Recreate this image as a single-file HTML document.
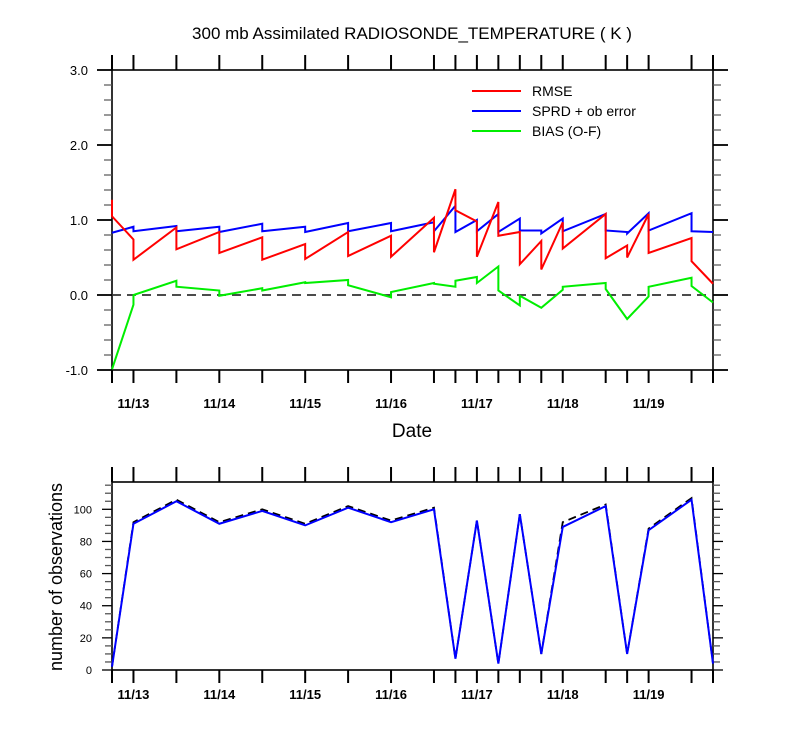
<!DOCTYPE html>
<html><head><meta charset="utf-8"><style>
body{margin:0;background:#fff;}
svg{display:block;font-family:"Liberation Sans",sans-serif;}
</style></head><body>
<svg id="chart" width="800" height="750" viewBox="0 0 800 750">
<text x="412" y="39" text-anchor="middle" font-size="17">300 mb Assimilated RADIOSONDE_TEMPERATURE ( K )</text>
<text x="412" y="437" text-anchor="middle" font-size="19">Date</text>
<text transform="translate(62,577) rotate(-90)" text-anchor="middle" font-size="18">number of observations</text>
<g id="gtop"></g>
<g id="gbot"></g>
<g id="glegend"></g>
</svg>
<script>
const times = [-6,0,12,24,36,48,60,72,84,90,96,102,108,114,120,132,138,144,156,162];
const dateLabels = ["11/13","11/14","11/15","11/16","11/17","11/18","11/19"];
const dateHours = [0,24,48,72,96,120,144];
const rmseBefore = [1.27,0.74,0.90,0.84,0.77,0.68,0.84,0.79,1.03,1.41,0.98,1.24,0.84,0.72,0.97,1.08,0.66,1.08,0.76,0.15];
const rmseAfter  = [1.05,0.47,0.61,0.56,0.47,0.48,0.52,0.51,0.57,1.13,0.51,0.79,0.41,0.34,0.62,0.49,0.50,0.56,0.45,0.15];
const sprdBefore = [0.83,0.91,0.92,0.91,0.95,0.91,0.96,0.96,0.97,1.19,1.00,1.08,1.02,0.86,1.02,1.08,0.84,1.09,1.09,0.84];
const sprdAfter  = [0.83,0.85,0.85,0.84,0.85,0.84,0.85,0.85,0.85,0.84,0.85,0.84,0.86,0.82,0.85,0.86,0.82,0.86,0.85,0.84];
const biasBefore = [-0.99,-0.13,0.19,0.06,0.09,0.17,0.20,-0.03,0.16,0.11,0.24,0.38,-0.14,-0.17,0.07,0.16,-0.32,-0.02,0.23,-0.10];
const biasAfter  = [-0.99,0.00,0.11,-0.01,0.06,0.16,0.13,0.04,0.15,0.19,0.16,0.06,-0.01,-0.17,0.11,0.08,-0.32,0.11,0.12,-0.10];
const obsUsed  = [2,91,105,91,99,90,101,92,100,7,93,4,97,10,89,102,10,87,106,4];
const obsTotal = [2,92,106,92,100,91,102,93,101,7,93,4,97,10,92,103,10,88,107,4];
const topTicks = [3.0,2.0,1.0,0.0,-1.0];
const topTickLabels = ["3.0","2.0","1.0","0.0","-1.0"];
const botTicks = [0,20,40,60,80,100];

const NS="http://www.w3.org/2000/svg";
const X0=112,X1=713;
const xs=h=>X0+(h-(-6))*(X1-X0)/168;
const ty=v=>295-v*75;
const by=v=>670-v*1.607;
function mk(parent,tag,attrs,text){const e=document.createElementNS(NS,tag);for(const k in attrs)e.setAttribute(k,attrs[k]);if(text!==undefined)e.textContent=text;parent.appendChild(e);return e;}
function line(p,x1,y1,x2,y2,w,c){return mk(p,"line",{x1,y1,x2,y2,stroke:c||"#000","stroke-width":w||1});}

const gTop=document.getElementById("gtop"), gBot=document.getElementById("gbot"), gLeg=document.getElementById("glegend");

function frame(g,yT,yB,name){
  const r=mk(g,"rect",{x:X0,y:yT,width:X1-X0,height:yB-yT,fill:"none",stroke:"#000","stroke-width":1.6});
  
  
  times.forEach(t=>{line(g,xs(t),yT,xs(t),yT-15,2);line(g,xs(t),yB,xs(t),yB+13,2);});
}
frame(gTop,70,370,"stats");
frame(gBot,482,670,"obs");

for(let i=0;i<=20;i++){const v=-1+i*0.2;const y=ty(v);const major=i%5===0;
  line(gTop,X0-(major?15:8),y,X0,y,major?1.8:1.2,major?"#000":"#555");
  line(gTop,X1,y,X1+(major?15:8),y,major?1.8:1.2,major?"#000":"#555");}
topTicks.forEach((v,i)=>{const t=mk(gTop,"text",{x:88,y:ty(v)+5,"text-anchor":"end","font-size":13},topTickLabels[i]);
  
  });
for(let v=0;v<=115;v+=5){const y=by(v);const major=v%20===0;
  line(gBot,X0-(major?10:7),y,X0,y,1.3,major?"#000":"#555");
  line(gBot,X1,y,X1+(major?10:7),y,1.3,major?"#000":"#555");}
botTicks.forEach(v=>{const t=mk(gBot,"text",{x:92,y:by(v)+4,"text-anchor":"end","font-size":11},String(v));
  
  });
dateHours.forEach((h,i)=>{
  const a=mk(gTop,"text",{x:xs(h),y:408,"text-anchor":"middle","font-size":13,"font-weight":"bold"},dateLabels[i]);
  
  
  const b=mk(gBot,"text",{x:xs(h),y:699,"text-anchor":"middle","font-size":13,"font-weight":"bold"},dateLabels[i]);
  
  
});
const z=line(gTop,X0,ty(0),X1,ty(0),1.8,"#333");z.setAttribute("stroke-dasharray","9,6");



function saw(before,after,color,name){
  let d="";times.forEach((t,i)=>{d+=(i?"L":"M")+xs(t)+","+ty(before[i])+"L"+xs(t)+","+ty(after[i]);});
  const p=mk(gTop,"path",{d,fill:"none",stroke:color,"stroke-width":2,"stroke-linejoin":"miter"});
  
  
}
saw(biasBefore,biasAfter,"#00ee00","bias-line");
saw(sprdBefore,sprdAfter,"#0000ff","sprd-line");
saw(rmseBefore,rmseAfter,"#ff0000","rmse-line");

function obsLine(vals,color,dash,name,w){
  const d=times.map((t,i)=>(i?"L":"M")+xs(t)+","+by(vals[i])).join("");
  const p=mk(gBot,"path",{d,fill:"none",stroke:color,"stroke-width":w});
  if(dash)p.setAttribute("stroke-dasharray",dash);
  
  
}
obsLine(obsTotal,"#000","8,5","obs-total-line",1.8);
obsLine(obsUsed,"#0000ff",null,"obs-used-line",2);

const legNames=["RMSE","SPRD + ob error","BIAS (O-F)"], legColors=["#ff0000","#0000ff","#00ee00"];
legNames.forEach((n,i)=>{const y=91+i*20;
  const g=mk(gLeg,"g",{});
  
  
  line(g,472,y,521,y,2,legColors[i]);
  mk(g,"text",{x:532,y:y+5,"font-size":14},n);
});
</script>
</body></html>
